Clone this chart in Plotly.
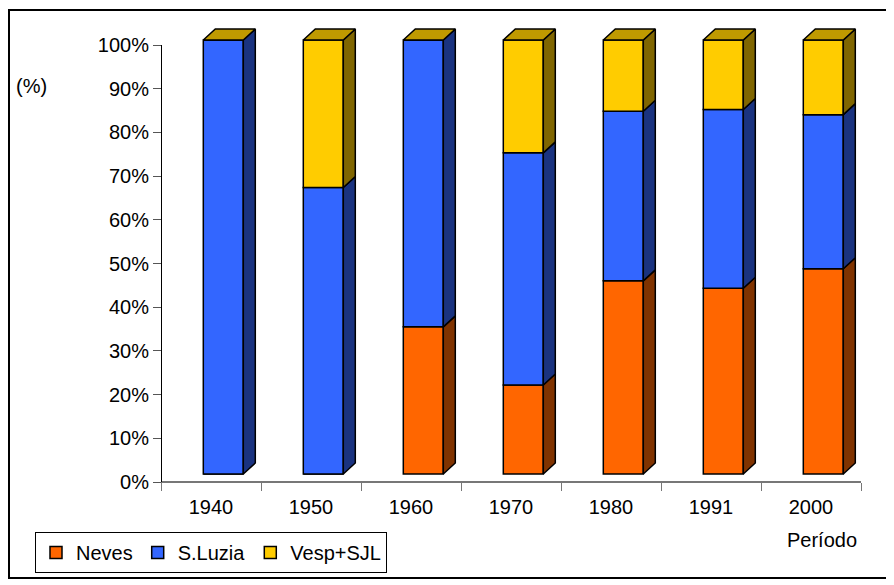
import plotly.graph_objects as go

# ---------------- data ----------------
years = ["1940", "1950", "1960", "1970", "1980", "1991", "2000"]
neves = [0, 0, 33.9, 20.5, 44.5, 42.8, 47.3]
sluzia = [100, 66.0, 66.1, 53.5, 39.1, 41.2, 35.5]
vesp = [0, 34.0, 0, 26.0, 16.4, 16.0, 17.2]
y_ticks = [0, 10, 20, 30, 40, 50, 60, 70, 80, 90, 100]

series = [
    ("Neves", neves, "#FF6600", "#803300"),
    ("S.Luzia", sluzia, "#3366FF", "#1A3380"),
    ("Vesp+SJL", vesp, "#FFCC00", "#806600"),
]
top_color = "#C09A00"

# page has an 8px body margin: figure is placed at (8, 8)
OX, OY = 8, 8
W, H = 886, 577
FONT = "Liberation Sans, Arial, sans-serif"
FS = 20


def px(x):  # page pixel -> paper fraction
    return (x - OX) / W


def py(y):
    return 1 - (y - OY) / H


# geometry (category units / value units of the bar subplot)
BAR_W = 0.4
BAR_OFF = -0.077
DX = 0.12
PX_PER_UNIT = 4.34          # pixels per 1 % on the bar front plane
DY = 11 / PX_PER_UNIT       # depth offset in value units

idx = list(range(len(years)))

fig = go.Figure()

bases = [0.0] * len(years)
seg_info = []
for name, vals, col, side in series:
    fig.add_trace(go.Bar(
        x=idx, y=vals, base=list(bases), width=BAR_W, offset=BAR_OFF,
        name=name, marker=dict(color=col, line=dict(color="#000000", width=1.5)),
        xaxis="x2", yaxis="y2",
    ))
    seg_info.append((vals, list(bases), side))
    bases = [b + v for b, v in zip(bases, vals)]

# side faces
for vals, bs, side in seg_info:
    xs, ys = [], []
    for i, (v, b) in enumerate(zip(vals, bs)):
        if v <= 0:
            continue
        x1 = i + BAR_OFF + BAR_W
        xs += [x1, x1 + DX, x1 + DX, x1, x1, None]
        ys += [b, b + DY, b + v + DY, b + v, b, None]
    fig.add_trace(go.Scatter(
        x=xs, y=ys, mode="lines", fill="toself", fillcolor=side,
        line=dict(color="#000000", width=1.5), showlegend=False,
        hoverinfo="skip", xaxis="x2", yaxis="y2",
    ))

# top faces
xs, ys = [], []
for i, T in enumerate(bases):
    x0 = i + BAR_OFF
    x1 = x0 + BAR_W
    xs += [x0, x0 + DX, x1 + DX, x1, x0, None]
    ys += [T, T + DY, T + DY, T, T, None]
fig.add_trace(go.Scatter(
    x=xs, y=ys, mode="lines", fill="toself", fillcolor=top_color,
    line=dict(color="#000000", width=1.5), showlegend=False,
    hoverinfo="skip", xaxis="x2", yaxis="y2",
))

# invisible trace to establish the main (axis) subplot
fig.add_trace(go.Scatter(x=[0], y=[0], mode="markers", marker=dict(opacity=0),
                         showlegend=False, hoverinfo="skip", xaxis="x", yaxis="y"))

xdom = [px(161), px(861)]
# bar subplot: value 0 at pixel 474, 100 at pixel 40
y2_bottom_px, y2_top_px = 482, 18
y2_lo = (474 - y2_bottom_px) / PX_PER_UNIT
y2_hi = (474 - y2_top_px) / PX_PER_UNIT

fig.update_layout(
    width=W, height=H, autosize=False,
    margin=dict(l=0, r=0, t=0, b=0, autoexpand=False),
    paper_bgcolor="white", plot_bgcolor="rgba(0,0,0,0)",
    barmode="overlay",
    font=dict(family=FONT, size=FS, color="#000000"),
    showlegend=True,
    legend=dict(
        orientation="h", x=px(35), y=py(532), xanchor="left", yanchor="top",
        bordercolor="#000000", borderwidth=1, bgcolor="white",
        font=dict(family=FONT, size=FS), traceorder="normal",
    ),
    xaxis=dict(
        domain=xdom, range=[-0.5, 6.5], anchor="free", position=py(482),
        tickmode="array", tickvals=[i - 0.5 for i in range(len(years) + 1)],
        showticklabels=False, ticks="outside", ticklen=8, tickcolor="#777777",
        showline=True, linecolor="#777777", linewidth=1.5,
        showgrid=False, zeroline=False, fixedrange=True, automargin=False,
    ),
    yaxis=dict(
        domain=[py(482), py(45)], range=[0, 100], anchor="free", position=px(161),
        tickmode="array", tickvals=y_ticks, ticktext=[f"{v}%" for v in y_ticks],
        ticks="outside", ticklen=8, tickcolor="#555555",
        showline=True, linecolor="#000000", linewidth=1,
        showgrid=False, zeroline=False, tickfont=dict(family=FONT, size=FS),
        automargin=False,
    ),
    xaxis2=dict(
        domain=xdom, range=[-0.5, 6.5], anchor="y2", visible=True,
        tickmode="array", tickvals=idx, ticktext=years,
        ticks="outside", ticklen=7, tickcolor="rgba(0,0,0,0)",
        showline=False, showgrid=False, zeroline=False,
        tickfont=dict(family=FONT, size=FS), automargin=False,
    ),
    yaxis2=dict(domain=[py(y2_bottom_px), py(y2_top_px)], range=[y2_lo, y2_hi],
                anchor="x2", visible=False),
    shapes=[
        dict(type="rect", xref="paper", yref="paper",
             x0=px(9), x1=px(892), y0=py(578), y1=py(10),
             line=dict(color="#000000", width=2), fillcolor="rgba(0,0,0,0)",
             layer="below"),
    ],
    annotations=[
        dict(text="(%)", xref="paper", yref="paper", x=px(14), y=py(86),
             xanchor="left", yanchor="middle", showarrow=False,
             font=dict(family=FONT, size=FS)),
        dict(text="Período", xref="paper", yref="paper", x=px(859), y=py(540),
             xanchor="right", yanchor="middle", showarrow=False,
             font=dict(family=FONT, size=FS)),
    ],
)

fig.write_html("out.html")
